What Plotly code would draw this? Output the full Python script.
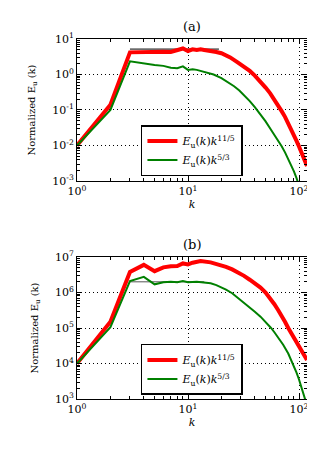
import plotly.graph_objects as go

# ---------- data ----------
k_a_red = [1, 2, 3, 4, 5, 6, 7, 8, 9, 10, 11, 12, 13, 14, 16, 18, 20, 24, 28, 32, 36, 40,
           45, 50, 55, 60, 65, 70, 75, 80, 85, 90, 95, 100, 105, 110, 115, 118]
E_a_red = [0.01, 0.14, 4.2, 4.4, 4.3, 4.4, 4.3, 4.8, 5.4, 4.6, 5.1, 4.9, 5.1, 4.9, 4.7, 4.3,
           3.98, 3.02, 2.19, 1.66, 1.26, 0.933, 0.631, 0.427, 0.295, 0.200, 0.135, 0.0912,
           0.0631, 0.0427, 0.0295, 0.0200, 0.0135, 0.00933, 0.00646, 0.00447, 0.00316, 0.00263]

k_a_green = [1, 2, 3, 4, 5, 6, 7, 8, 9, 10, 11, 12, 14, 17, 20, 23, 26, 29, 32, 36, 40, 45,
             50, 55, 60, 65, 70, 75, 80, 85, 90, 95, 100, 110, 118]
E_a_green = [0.01, 0.1, 2.35, 2.0, 1.85, 1.75, 1.55, 1.5, 1.7, 1.35, 1.4, 1.35, 1.2, 1.0,
             0.794, 0.617, 0.468, 0.355, 0.263, 0.178, 0.120, 0.0759, 0.0479, 0.0302, 0.0200,
             0.0135, 0.00933, 0.00631, 0.00417, 0.00282, 0.00186, 0.00120, 0.000794,
             0.000316, 0.000158]

k_a_ref = [3, 19]
E_a_ref = [5.2, 5.2]

k_b_red = [1, 2, 3, 4, 5, 6, 7, 8, 9, 10, 11, 12, 13, 16, 19, 22, 25, 28, 32, 36, 40, 45,
           50, 55, 60, 65, 70, 75, 80, 85, 90, 95, 100, 105, 110, 118]
E_b_red = [1e4, 1.5e5, 3.8e6, 6.0e6, 4.0e6, 5.1e6, 5.5e6, 5.6e6, 6.6e6, 6.2e6, 6.9e6, 7.5e6,
           7.76e6, 7.08e6, 6.17e6, 5.25e6, 4.47e6, 3.72e6, 2.95e6, 2.29e6, 1.82e6, 1.38e6,
           1.0e6, 6.92e5, 4.68e5, 3.16e5, 2.19e5, 1.48e5, 1.0e5, 7.24e4, 5.37e4, 4.07e4,
           3.09e4, 2.40e4, 1.86e4, 1.26e4]

k_b_green = [1, 2, 3, 4, 5, 6, 7, 8, 9, 10, 12, 14, 16, 18, 20, 22, 25, 28, 32, 36, 40, 45,
             50, 56, 60, 65, 72, 80, 88, 95, 100, 106, 113, 118]
E_b_green = [1e4, 1.05e5, 2.1e6, 2.75e6, 1.7e6, 1.95e6, 2.0e6, 1.95e6, 2.1e6, 1.95e6, 2.0e6,
             1.95e6, 1.82e6, 1.62e6, 1.41e6, 1.20e6, 9.55e5, 7.24e5, 5.01e5, 3.72e5, 2.88e5,
             2.09e5, 1.51e5, 1.0e5, 7.59e4, 5.50e4, 3.39e4, 1.91e4, 1.0e4, 5.50e3, 3.55e3,
             2.09e3, 1.07e3, 6.61e2]

k_b_ref = [3, 14]
E_b_ref = [2.0e6, 2.0e6]

x_tickvals = [1, 10, 100]
x_ticktext = ["10<sup>0</sup>", "10<sup>1</sup>", "10<sup>2</sup>"]
ya_exps = [-3, -2, -1, 0, 1]
yb_exps = [3, 4, 5, 6, 7]

name_red = "<i>E</i><sub>u</sub>(<i>k</i>)<i>k</i><sup>11/5</sup>"
name_green = "<i>E</i><sub>u</sub>(<i>k</i>)<i>k</i><sup>5/3</sup>"

# ---------- figure ----------
FONT = "DejaVu Serif"
RED = "#ff0000"
GREEN = "#008000"

fig = go.Figure()

fig.add_trace(go.Scatter(x=k_a_ref, y=E_a_ref, mode="lines", line=dict(color="black", width=1),
                         showlegend=False, xaxis="x", yaxis="y"))
fig.add_trace(go.Scatter(x=k_a_red, y=E_a_red, mode="lines", name=name_red,
                         line=dict(color=RED, width=4), xaxis="x", yaxis="y", legend="legend"))
fig.add_trace(go.Scatter(x=k_a_green, y=E_a_green, mode="lines", name=name_green,
                         line=dict(color=GREEN, width=2), xaxis="x", yaxis="y", legend="legend"))

fig.add_trace(go.Scatter(x=k_b_ref, y=E_b_ref, mode="lines", line=dict(color="#555555", width=1),
                         showlegend=False, xaxis="x2", yaxis="y2"))
fig.add_trace(go.Scatter(x=k_b_red, y=E_b_red, mode="lines", name=name_red,
                         line=dict(color=RED, width=4), xaxis="x2", yaxis="y2", legend="legend2"))
fig.add_trace(go.Scatter(x=k_b_green, y=E_b_green, mode="lines", name=name_green,
                         line=dict(color=GREEN, width=2), xaxis="x2", yaxis="y2", legend="legend2"))


def minor_vals(lo, hi):
    vals = []
    for p in range(lo, hi + 1):
        for m in range(2, 10):
            vals.append(m * 10 ** p)
    return vals


def axis_common():
    return dict(
        type="log", showline=True, linecolor="black", linewidth=1, mirror="allticks",
        ticks="inside", ticklen=5, tickwidth=1, tickcolor="black",
        showgrid=True, gridcolor="black", gridwidth=1, griddash="1px,3px",
        zeroline=False, automargin=False,
        tickfont=dict(family=FONT, size=11, color="black"),
        minor=dict(ticks="inside", ticklen=3, tickwidth=1, tickcolor="black", showgrid=False),
    )


xr = [0, 2.072]
xa = axis_common()
xa.update(range=xr, tickmode="array", tickvals=x_tickvals, ticktext=x_ticktext,
          title=dict(text="<i>k</i>", font=dict(family=FONT, size=11, color="black"), standoff=3),
          anchor="y", domain=[0, 1])
xa["minor"]["tickvals"] = minor_vals(0, 2)
xb = dict(xa)
xb["anchor"] = "y2"
xb["minor"] = dict(xa["minor"])

ya = axis_common()
ya.update(range=[-3, 1], tickmode="array", tickvals=[10 ** e for e in ya_exps],
          ticktext=["10<sup>%s</sup>" % (str(e) if e >= 0 else "-" + str(-e)) for e in ya_exps],
          title=dict(text="Normalized E<sub>u</sub> (k)", font=dict(family=FONT, size=10, color="black"),
                     standoff=14),
          anchor="x", domain=[0.6056, 1])
ya["minor"]["tickvals"] = minor_vals(-3, 0)

yb = axis_common()
yb.update(range=[3, 7], tickmode="array", tickvals=[10 ** e for e in yb_exps],
          ticktext=["10<sup>%d</sup>" % e for e in yb_exps],
          title=dict(text="Normalized E<sub>u</sub> (k)", font=dict(family=FONT, size=10, color="black"),
                     standoff=14),
          anchor="x2", domain=[0, 0.3944])
yb["minor"]["tickvals"] = minor_vals(3, 6)

legend_common = dict(bgcolor="white", bordercolor="black", borderwidth=1.5,
                     font=dict(family=FONT, size=11, color="black"),
                     xanchor="left", yanchor="top", tracegroupgap=0)

fig.update_layout(
    width=315, height=450,
    margin=dict(l=69, r=16, t=31, b=59),
    paper_bgcolor="white", plot_bgcolor="white",
    font=dict(family=FONT, color="black"),
    xaxis=xa, yaxis=ya, xaxis2=xb, yaxis2=yb,
    legend=dict(x=0.278, y=0.761, **legend_common),
    legend2=dict(x=0.278, y=0.153, **legend_common),
    annotations=[
        dict(text="(a)", x=0.5, y=1, xref="paper", yref="paper", yanchor="bottom", yshift=3,
             showarrow=False, font=dict(family=FONT, size=13, color="black")),
        dict(text="(b)", x=0.5, y=0.3944, xref="paper", yref="paper", yanchor="bottom", yshift=3,
             showarrow=False, font=dict(family=FONT, size=13, color="black")),
    ],
)

fig.write_html("out.html")
